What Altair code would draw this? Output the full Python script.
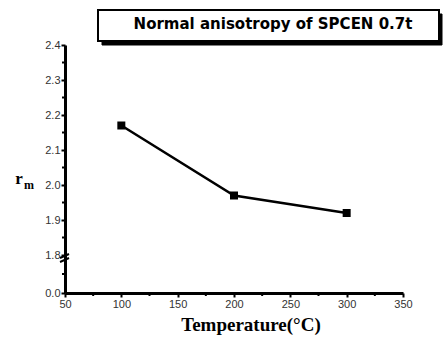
import altair as alt
import pandas as pd

temps = [100, 200, 300]
rm_values = [2.17, 1.97, 1.92]
y_tick_values = [0.0, 1.8, 1.9, 2.0, 2.1, 2.2, 2.3, 2.4]
y_minor_values = [0.9, 1.85, 1.95, 2.05, 2.15, 2.25, 2.35]
x_tick_values = [50, 100, 150, 200, 250, 300, 350]
x_minor_values = [75, 125, 175, 225, 275, 325]
title_text = "Normal anisotropy of SPCEN 0.7t"
x_title = "Temperature(°C)"

W, H = 338, 248
df = pd.DataFrame({"t": temps, "rm": rm_values})

xs = alt.Scale(domain=[50, 350], nice=False, zero=False)
ys = alt.Scale(domain=[0.0, 1.8, 2.4], range=[H, 210, 0], nice=False, zero=False)

axis_common = dict(
    title=None, domainColor="black", domainWidth=3, tickColor="black",
    tickWidth=2, tickSize=4, labelFont="Liberation Sans", labelFontSize=11,
    labelColor="#333", labelPadding=1, grid=False, labelOverlap=False,
    labelFlush=False, tickCount=20,
)

base = alt.Chart(df)

line = base.mark_line(color="black", strokeWidth=2.5).encode(
    x=alt.X("t:Q", scale=xs, axis=alt.Axis(values=x_tick_values, **axis_common)),
    y=alt.Y("rm:Q", scale=ys, axis=alt.Axis(values=y_tick_values, format=".1f", **axis_common)),
)
pts = base.mark_square(color="black", size=64, opacity=1).encode(
    x=alt.X("t:Q", scale=xs), y=alt.Y("rm:Q", scale=ys))

xminor = alt.Chart(pd.DataFrame({"v": x_minor_values})).mark_rule(
    color="black", strokeWidth=2).encode(
    x=alt.X("v:Q", scale=xs), y=alt.value(H), y2=alt.value(H + 3))
yminor = alt.Chart(pd.DataFrame({"v": y_minor_values})).mark_rule(
    color="black", strokeWidth=2).encode(
    y=alt.Y("v:Q", scale=ys), x=alt.value(-3), x2=alt.value(0))

brk1 = alt.Chart(pd.DataFrame({"a": [0]})).mark_rule(color="black", strokeWidth=2).encode(
    x=alt.value(-5), x2=alt.value(4), y=alt.value(213), y2=alt.value(209))
brk2 = alt.Chart(pd.DataFrame({"a": [0]})).mark_rule(color="black", strokeWidth=2).encode(
    x=alt.value(-5), x2=alt.value(4), y=alt.value(217), y2=alt.value(213))

shadow = alt.Chart(pd.DataFrame({"a": [0]})).mark_rect(
    fill="black", stroke="black", strokeWidth=1, opacity=1).encode(
    x=alt.value(37), x2=alt.value(377), y=alt.value(-31), y2=alt.value(0))
box = alt.Chart(pd.DataFrame({"a": [0]})).mark_rect(
    fill="white", stroke="black", strokeWidth=2, opacity=1).encode(
    x=alt.value(33), x2=alt.value(374), y=alt.value(-35), y2=alt.value(-4))
ttl = alt.Chart(pd.DataFrame({"s": [title_text]})).mark_text(
    font="DejaVu Sans", fontWeight="bold", fontSize=15, color="black",
    align="center", baseline="middle").encode(
    text="s:N", x=alt.value(208), y=alt.value(-21))

xt = alt.Chart(pd.DataFrame({"s": [x_title]})).mark_text(
    font="Liberation Serif", fontWeight="bold", fontSize=19, color="black",
    align="center", baseline="middle").encode(
    text="s:N", x=alt.value(186), y=alt.value(280))
yr = alt.Chart(pd.DataFrame({"s": ["r"]})).mark_text(
    font="Liberation Serif", fontWeight="bold", fontSize=17, color="black",
    align="center", baseline="alphabetic").encode(
    text="s:N", x=alt.value(-46), y=alt.value(139))
ym = alt.Chart(pd.DataFrame({"s": ["m"]})).mark_text(
    font="Liberation Serif", fontWeight="bold", fontSize=12, color="black",
    align="left", baseline="alphabetic").encode(
    text="s:N", x=alt.value(-41), y=alt.value(144))

chart = alt.layer(shadow, box, ttl, xminor, yminor, line, pts, brk1, brk2, xt, yr, ym).properties(
    width=W, height=H,
    autosize=alt.AutoSizeParams(type="none"),
    padding={"left": 65, "top": 45, "right": 41, "bottom": 44},
    background="white",
).configure_view(stroke=None)

chart.save("out.html", embed_options={"renderer": "svg", "actions": False})
